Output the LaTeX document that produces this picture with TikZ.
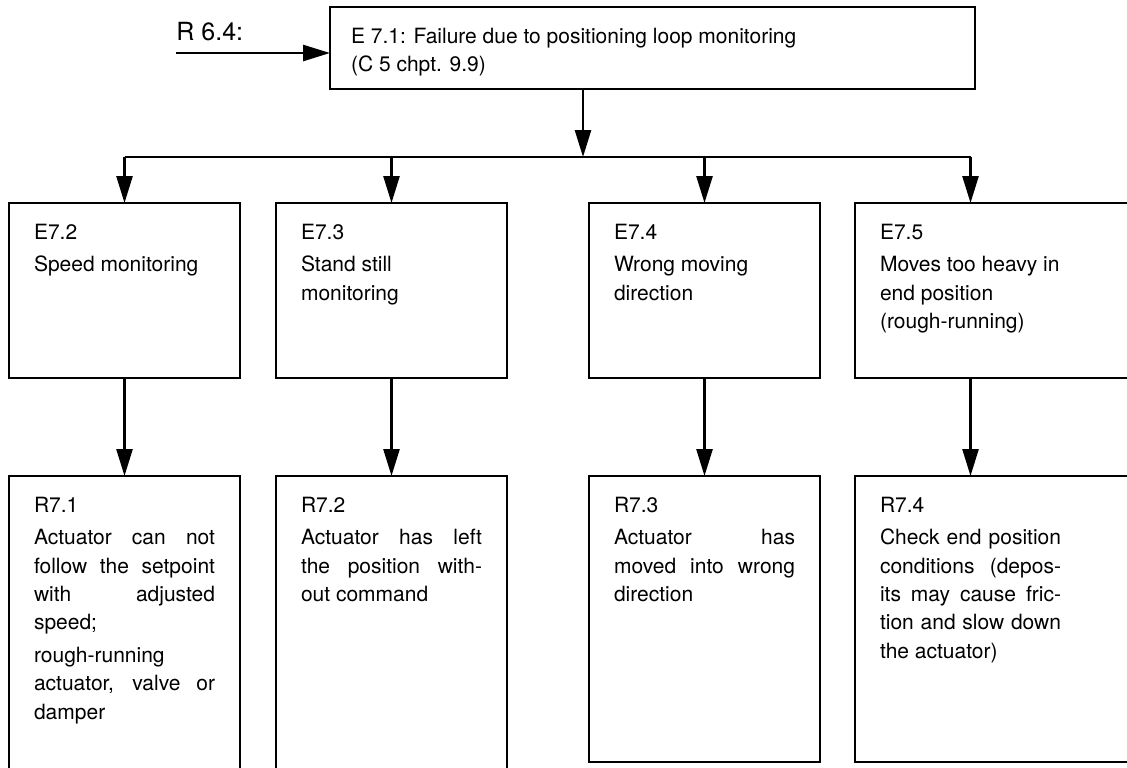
\documentclass[tikz,border=0pt]{standalone}
\usepackage{fontspec}
\setmainfont{TeX Gyre Heros}
\usetikzlibrary{arrows.meta,positioning}
\newcommand{\cellbox}[3]{\parbox[t][#2][t]{#1}{\fontsize{10.5pt}{14.2pt}\selectfont\setlength{\parskip}{2pt}\vspace*{8.5pt}#3}}

\begin{document}
\begin{tikzpicture}[x=0.5pt, y=-0.5pt,
      node distance=49pt and 18pt,
      cell/.style={draw, line width=1.3pt, anchor=north west, inner xsep=12.5pt, inner ysep=0pt, outer sep=0pt},
      arr/.style={-{Triangle[length=13.5pt,width=8pt]}, line width=1.3pt},
      link/.style={line width=1.3pt}
    ]
      \clip (0,0) rectangle (1127,767);
      % entry and main fault
      \node[cell, inner xsep=10.5pt] (e71) at (330,7) {\cellbox{301.5pt}{41pt}{E 7.1: Failure due to positioning loop monitoring\\(C 5 chpt. 9.9)}};
      \node[anchor=west, inner sep=0pt, font=\fontsize{12.5pt}{14pt}\selectfont] (r64) at (176,32) {R 6.4:};
      \coordinate (src) at (176,53);
      \draw[arr] (src) -- (src -| e71.west);

      % fault cases (last column runs off the page)
      \node[cell] (e72) at (9,203) {\cellbox{90.5pt}{87.5pt}{E7.2\par Speed monitoring}};
      \node[cell, right=18pt of e72] (e73) {\cellbox{90.5pt}{87.5pt}{E7.3\par Stand still\\monitoring}};
      \node[cell, right=41pt of e73] (e74) {\cellbox{90.5pt}{87.5pt}{E7.4\par Wrong moving\\direction}};
      \node[cell, right=17.5pt of e74] (e75) {\cellbox{90.5pt}{87.5pt}{E7.5\par Moves too heavy in\\end position\\(rough-running)}\hspace*{40pt}};

      % remedies
      \node[cell, below=of e72] (r71) {\cellbox{90.5pt}{160pt}{R7.1\par Actuator can not\linebreak follow the setpoint\linebreak with adjusted\linebreak speed;\par rough-running\\actuator, valve or\linebreak damper}};
      \node[cell, below=of e73] (r72) {\cellbox{90.5pt}{160pt}{R7.2\par Actuator has left\linebreak the position with-\linebreak out command}};
      \node[cell, below=of e74] (r73) {\cellbox{90.5pt}{143pt}{R7.3\par Actuator has\linebreak moved into wrong\linebreak direction}};
      \node[cell, below=of e75] (r74) {\cellbox{90.5pt}{143pt}{R7.4\par Check end position\linebreak conditions (depos-\linebreak its may cause fric-\linebreak tion and slow down\linebreak the actuator)}\hspace*{40pt}};

      % connectors
      \coordinate (hub) at (583,157);
      \path (e75.north west) ++(115.5,0) coordinate (c4);
      \draw[arr] (e71.south -| hub) -- (hub);
      \draw[link] (e72.north |- hub) -- (c4 |- hub);
      \foreach \n in {e72,e73,e74,c4}
        \draw[arr] (\n.north |- hub) -- (\n.north);
      \draw[arr] (e72) -- (r71);
      \draw[arr] (e73) -- (r72);
      \draw[arr] (e74) -- (r73);
      \draw[arr] (c4 |- e75.south) -- (c4 |- r74.north);
    \end{tikzpicture}
\end{document}
